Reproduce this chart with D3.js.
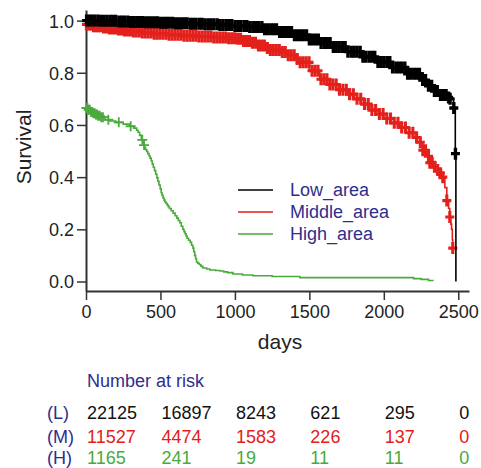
<!DOCTYPE html>
<html>
<head>
<meta charset="utf-8">
<script src="https://cdn.jsdelivr.net/npm/d3@7"></script>
<style>
  html, body { margin: 0; padding: 0; background: #fff; }
  svg { display: block; }
  text { font-family: "Liberation Sans", Arial, sans-serif; }
</style>
</head>
<body>
<div id="chart"></div>
<script>
// ---------------- data ----------------
const groups = ["Low_area", "Middle_area", "High_area"];
const groupCodes = ["(L)", "(M)", "(H)"];
const groupColors = ["#000000", "#e3201b", "#4aaa3c"];

// Kaplan-Meier step points [days, survival]
const lowCurve = [[0,1.0],[100,0.999],[200,0.997],[300,0.995],[400,0.994],[500,0.992],[600,0.99],[700,0.988],[800,0.986],[900,0.983],[1000,0.979],[1100,0.975],[1200,0.967],[1300,0.956],[1400,0.944],[1500,0.928],[1570,0.914],[1650,0.899],[1750,0.881],[1850,0.861],[1950,0.841],[2050,0.82],[2150,0.796],[2242,0.772],[2300,0.75],[2340,0.73],[2376,0.715],[2420,0.705],[2445,0.70],[2468,0.665],[2480,0.49],[2484,0.0]];
const middleCurve = [[0,0.985],[50,0.978],[100,0.974],[150,0.97],[200,0.966],[250,0.962],[300,0.958],[375,0.954],[450,0.95],[550,0.946],[650,0.942],[750,0.939],[850,0.935],[950,0.932],[1000,0.93],[1050,0.922],[1100,0.915],[1150,0.905],[1200,0.895],[1235,0.887],[1300,0.88],[1350,0.867],[1400,0.853],[1436,0.84],[1500,0.808],[1570,0.775],[1635,0.755],[1700,0.735],[1750,0.718],[1800,0.70],[1850,0.68],[1906,0.657],[1950,0.642],[2000,0.625],[2050,0.608],[2107,0.59],[2150,0.57],[2200,0.552],[2242,0.534],[2262,0.503],[2285,0.48],[2309,0.455],[2335,0.44],[2362,0.427],[2380,0.415],[2396,0.40],[2410,0.36],[2423,0.31],[2435,0.28],[2443,0.247],[2450,0.22],[2455,0.2],[2460,0.16],[2463,0.128]];
const highCurve = [[0,0.665],[15,0.658],[30,0.65],[45,0.645],[60,0.64],[80,0.635],[100,0.63],[128,0.62],[160,0.615],[200,0.61],[250,0.603],[295,0.595],[320,0.588],[340,0.58],[350,0.572],[360,0.56],[372,0.543],[383,0.523],[392,0.514],[400,0.505],[408,0.498],[415,0.49],[423,0.482],[430,0.473],[438,0.462],[445,0.45],[452,0.438],[460,0.425],[468,0.411],[476,0.397],[483,0.384],[490,0.37],[498,0.355],[505,0.34],[511,0.33],[517,0.32],[524,0.312],[530,0.305],[538,0.299],[545,0.293],[552,0.287],[560,0.28],[572,0.271],[585,0.262],[598,0.252],[610,0.243],[620,0.234],[630,0.225],[640,0.212],[650,0.2],[658,0.191],[665,0.183],[672,0.175],[678,0.166],[689,0.158],[700,0.15],[709,0.139],[718,0.128],[724,0.114],[730,0.1],[736,0.087],[742,0.075],[751,0.07],[760,0.065],[772,0.058],[785,0.052],[810,0.048],[832,0.044],[870,0.042],[900,0.04],[925,0.037],[950,0.034],[987,0.029],[1050,0.025],[1121,0.022],[1250,0.019],[1436,0.015],[2150,0.015],[2200,0.011],[2250,0.008],[2300,0.004],[2330,0.002]];

// censoring times (days)
const lowCensor = [4,22,41,60,81,100,119,140,161,180,199,221,240,259,281,300,320,341,360,379,401,420,439,461,480,500,521,540,559,581,600,620,641,660,679,701,720,739,761,780,800,821,840,859,881,900,920,941,960,979,1001,1020,1039,1061,1080,1100,1121,1140,1159,1181,1200,1220,1241,1260,1279,1301,1320,1339,1361,1380,1400,1421,1440,1459,1481,1500,1520,1541,1560,1579,1601,1620,1639,1661,1680,1700,1721,1740,1759,1781,1800,1820,1841,1860,1879,1901,1920,1939,1961,1980,2000,2021,2040,2059,2081,2100,2120,2141,2160,2179,2201,2220,2239,2261,2280,2300,2321,2340,2359,2381,2400,2418,2435,2445,2470,2481];
const middleCensor = [3,14,26,38,50,62,74,86,98,118,138,158,178,198,218,238,258,278,298,318,338,358,378,398,418,438,458,478,498,518,538,558,578,598,618,638,658,678,698,718,738,758,778,798,818,838,858,878,898,918,938,958,978,998,1018,1038,1058,1078,1098,1118,1138,1158,1178,1198,1218,1238,1258,1278,1298,1318,1338,1358,1378,1398,1418,1438,1458,1478,1498,1518,1538,1558,1578,1598,1618,1638,1658,1680,1702,1725,1748,1770,1795,1820,1845,1870,1895,1920,1945,1970,1995,2020,2045,2070,2095,2120,2145,2170,2195,2220,2245,2262,2280,2300,2309,2325,2340,2362,2380,2396,2423,2443,2463];
const highCensor = [3,10,18,26,34,42,50,58,66,74,82,92,102,114,150,220,300,378,390];

// number at risk
const riskTimes = [0, 500, 1000, 1500, 2000, 2500];
const riskLow = [22125, 16897, 8243, 621, 295, 0];
const riskMiddle = [11527, 4474, 1583, 226, 137, 0];
const riskHigh = [1165, 241, 19, 11, 11, 0];

const xTicks = [0, 500, 1000, 1500, 2000, 2500];
const yTicks = [0, 0.2, 0.4, 0.6, 0.8, 1.0];

// ---------------- drawing ----------------
const W = 481, H = 468;
const svg = d3.select("#chart").append("svg").attr("width", W).attr("height", H);

const x = d3.scaleLinear().domain([0, 2572]).range([86, 469]);
const y = d3.scaleLinear().domain([-0.0364, 1.0406]).range([291, 10]);

const axisColor = "#333333";
const navy = "#2e2e8f";

// axes
const xAxis = svg.append("g").attr("transform", "translate(0,291)")
  .call(d3.axisBottom(x).tickValues(xTicks).tickSize(9).tickSizeOuter(0).tickPadding(5).tickFormat(d3.format("d")));
const yAxis = svg.append("g").attr("transform", "translate(86,0)")
  .call(d3.axisLeft(y).tickValues(yTicks).tickSize(9).tickSizeOuter(0).tickPadding(3).tickFormat(d3.format(".1f")));
[xAxis, yAxis].forEach(g => {
  g.select(".domain").attr("stroke", axisColor).attr("stroke-width", 2);
  g.selectAll(".tick line").attr("stroke", axisColor).attr("stroke-width", 1.5);
  g.selectAll(".tick text").attr("fill", "#222").style("font-size", "18px")
    .style("font-family", "'Liberation Sans', Arial, sans-serif");
});
yAxis.selectAll(".tick text").attr("dy", "0.36em");

// axis titles
svg.append("text").attr("transform", "translate(31,147) rotate(-90)")
  .attr("text-anchor", "middle").attr("fill", "#222").style("font-size", "21px").text("Survival");
svg.append("text").attr("x", 280).attr("y", 349)
  .attr("text-anchor", "middle").attr("fill", "#222").style("font-size", "21px").text("days");

// curves
const line = d3.line().x(d => x(d[0])).y(d => y(d[1])).curve(d3.curveStepAfter);
const curves = [lowCurve, middleCurve, highCurve];
const censors = [lowCensor, middleCensor, highCensor];
const markSize = [[4.5, 6], [4.5, 6], [5, 5]];
const markStroke = [3.4, 3.1, 1.8];

function survAt(curve, t) {
  let s = curve[0][1];
  for (const p of curve) { if (p[0] <= t) s = p[1]; else break; }
  return s;
}

// draw order: green, red, black on top
[2, 1, 0].forEach(i => {
  const g = svg.append("g");
  g.append("path").datum(curves[i]).attr("d", line)
    .attr("fill", "none").attr("stroke", groupColors[i]).attr("stroke-width", 1.6);
  const [hw, hh] = markSize[i];
  g.selectAll("path.cm").data(censors[i]).join("path").attr("class", "cm")
    .attr("d", t => {
      const cx = x(t), cy = y(survAt(curves[i], t));
      return `M${cx - hw},${cy}H${cx + hw}M${cx},${cy - hh}V${cy + hh}`;
    })
    .attr("stroke", groupColors[i]).attr("stroke-width", markStroke[i]).attr("fill", "none");
});

// legend
const legend = svg.append("g");
const legY = [190, 212, 234];
groups.forEach((gname, i) => {
  legend.append("line").attr("x1", 238).attr("x2", 273).attr("y1", legY[i]).attr("y2", legY[i])
    .attr("stroke", groupColors[i]).attr("stroke-width", 1.6);
  legend.append("text").attr("x", 290).attr("y", legY[i]).attr("dy", "0.36em")
    .attr("fill", navy).style("font-size", "18px").text(gname);
});

// number at risk table
svg.append("text").attr("x", 87).attr("y", 387).attr("fill", navy)
  .style("font-size", "18px").text("Number at risk");
const riskRows = [riskLow, riskMiddle, riskHigh];
const rowY = [419, 443, 464];
riskRows.forEach((row, i) => {
  svg.append("text").attr("x", 47).attr("y", rowY[i]).attr("fill", navy)
    .style("font-size", "18px").text(groupCodes[i]);
  svg.selectAll(null).data(row).join("text")
    .attr("x", (d, j) => x(riskTimes[j]) + 1)
    .attr("y", rowY[i])
    .attr("fill", groupColors[i] === "#000000" ? "#111" : groupColors[i])
    .style("font-size", "18px")
    .text(d => d);
});
</script>
</body>
</html>
